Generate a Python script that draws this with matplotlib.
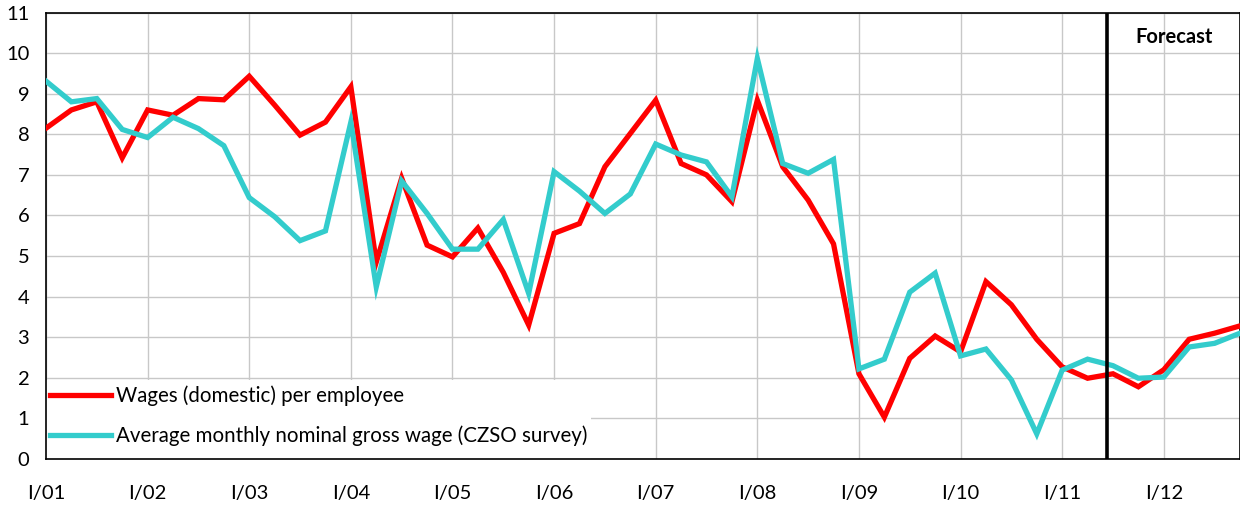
import matplotlib
matplotlib.use("Agg")
import matplotlib.pyplot as plt
from matplotlib.patches import Rectangle
import numpy as np

plt.rcParams['font.family'] = ['Lato', 'DejaVu Sans']

# quarterly data, I/01 .. IV/12
years = ['01', '02', '03', '04', '05', '06', '07', '08', '09', '10', '11', '12']
wages_domestic = [8.15, 8.6, 8.8, 7.42, 8.6, 8.47, 8.88, 8.85,
                  9.43, 8.72, 7.98, 8.3, 9.17, 4.85, 6.92, 5.27,
                  4.98, 5.69, 4.6, 3.3, 5.56, 5.8, 7.2, 8.02,
                  8.84, 7.28, 7.0, 6.34, 8.84, 7.2, 6.38, 5.3,
                  2.1, 1.03, 2.48, 3.03, 2.64, 4.37, 3.8, 2.95,
                  2.27, 1.99, 2.1, 1.78, 2.2, 2.95, 3.1, 3.28]
wages_czso = [9.31, 8.8, 8.88, 8.12, 7.92, 8.42, 8.14, 7.72,
              6.44, 5.97, 5.38, 5.62, 8.3, 4.24, 6.85, 6.05,
              5.17, 5.17, 5.9, 4.08, 7.08, 6.6, 6.05, 6.53,
              7.76, 7.49, 7.32, 6.46, 9.87, 7.28, 7.04, 7.38,
              2.22, 2.46, 4.11, 4.58, 2.54, 2.71, 1.95, 0.62,
              2.19, 2.46, 2.3, 1.99, 2.02, 2.76, 2.85, 3.1]
forecast_start = 41.75

x = np.arange(len(wages_domestic))
fs = 14.5

fig = plt.figure(figsize=(12.4, 5.09), dpi=100)
ax = fig.add_axes([0.0371, 0.0982, 0.9629, 0.8772])

ax.plot(x, wages_domestic, color='#ff0000', lw=3.8, solid_joinstyle='miter',
        label='Wages (domestic) per employee', zorder=3)
ax.plot(x, wages_czso, color='#33cccc', lw=3.8, solid_joinstyle='miter',
        label='Average monthly nominal gross wage (CZSO survey)', zorder=3)

ax.axvline(forecast_start, color='black', lw=2.6, zorder=4)
ax.text(44.4, 10.4, 'Forecast', fontweight='bold', fontsize=fs,
        ha='center', va='center')

ax.set_xlim(0, 47)
ax.set_ylim(0, 11)
ax.set_xticks(np.arange(0, 48, 4))
ax.set_xticklabels(['I/' + y for y in years])
ax.set_yticks(np.arange(0, 12))
ax.tick_params(axis='both', length=0, labelsize=fs)
ax.tick_params(axis='x', pad=19)
ax.tick_params(axis='y', pad=12)
ax.grid(True, color='#c8c8c8', lw=1)
ax.set_axisbelow(True)
for s in ax.spines.values():
    s.set_color('black')
    s.set_linewidth(1.2)

# white background behind the legend (hides the grid there)
ax.add_patch(Rectangle((0, 0), 0.4565, 0.177, transform=ax.transAxes,
                       facecolor='white', edgecolor='none', zorder=2))
leg = ax.legend(loc='lower left', bbox_to_anchor=(0, 0.0202), frameon=False,
                borderaxespad=0, fontsize=14.8, handlelength=2.95,
                handletextpad=0.25, labelspacing=0.95, borderpad=0.2)
leg.set_zorder(5)

fig.savefig('out.png', dpi=100)
